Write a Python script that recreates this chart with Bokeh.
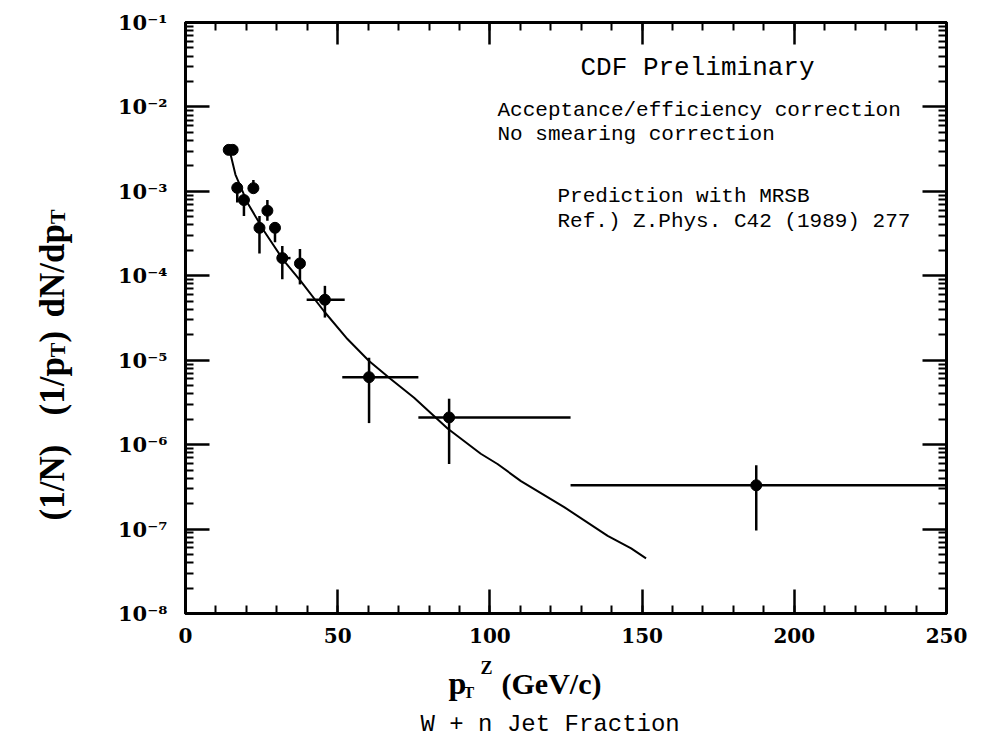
import math
from bokeh.plotting import figure
from bokeh.layouts import row, column
from bokeh.models import (Range1d, LinearAxis, LogAxis, FixedTicker, SingleIntervalTicker,
                          CustomJSTickFormatter, Label, ColumnDataSource)
from bokeh.embed import file_html
from bokeh.resources import INLINE

# ---------------- data ----------------
pt_x = [14.2, 15.5, 17.0, 19.2, 22.3, 24.3, 26.9, 29.4, 31.8, 37.6, 45.8, 60.3, 86.6, 187.5]
pt_y = [3.1e-3, 3.1e-3, 1.1e-3, 7.9e-4, 1.09e-3, 3.7e-4, 5.9e-4, 3.7e-4, 1.62e-4, 1.40e-4,
        5.2e-5, 6.3e-6, 2.1e-6, 3.3e-7]
pt_x_lo = [14.2, 15.5, 17.0, 19.2, 22.3, 24.3, 26.9, 29.4, 30.2, 37.6, 39.8, 51.5, 76.5, 126.5]
pt_x_hi = [14.2, 15.5, 17.0, 19.2, 22.3, 24.3, 26.9, 29.4, 34.5, 37.6, 52.3, 76.5, 126.5, 250.0]
pt_y_lo = [3.1e-3, 3.1e-3, 7.4e-4, 5.1e-4, 9.8e-4, 1.84e-4, 4.5e-4, 2.5e-4, 9.1e-5, 7.9e-5,
           3.2e-5, 1.8e-6, 5.9e-7, 9.6e-8]
pt_y_hi = [3.1e-3, 3.1e-3, 1.25e-3, 9.0e-4, 1.36e-3, 5.1e-4, 7.9e-4, 4.3e-4, 2.26e-4, 2.07e-4,
           7.6e-5, 1.07e-5, 3.5e-6, 5.7e-7]

curve_x = [14.8, 16.4, 20.3, 25.8, 32.3, 37.8, 45.5, 53.2, 60.3, 67.4, 75.1, 86.1, 97.0,
           102.5, 110.2, 124.4, 138.7, 146.4, 151.3]
curve_y = [2.75e-3, 1.58e-3, 7.4e-4, 3.39e-4, 1.51e-4, 8.7e-5, 3.8e-5, 1.78e-5, 9.8e-6, 6.0e-6,
           3.6e-6, 1.55e-6, 7.8e-7, 5.9e-7, 3.7e-7, 1.82e-7, 8.3e-8, 5.9e-8, 4.5e-8]

y_exps = [-8, -7, -6, -5, -4, -3, -2, -1]
y_tick_labels = ["10\u207b\u2078", "10\u207b\u2077", "10\u207b\u2076", "10\u207b\u2075",
                 "10\u207b\u2074", "10\u207b\u00b3", "10\u207b\u00b2", "10\u207b\u00b9"]
x_tick_labels = ["0", "50", "100", "150", "200", "250"]

annot_lines = ["Acceptance/efficiency correction", "No smearing correction"]
pred_lines = ["Prediction with MRSB", "Ref.) Z.Phys. C42 (1989) 277"]

# ---------------- geometry of the page ----------------
W, H = 989, 743
SIDE_W = 80            # left strip holding the y title
MAIN_H = 653           # height of the main figure (and the left strip)
BOT_H = H - MAIN_H     # strip below holding the x title and the caption
LEFT, RIGHT, TOP, BOTTOM = 185, 43, 22, 130   # frame position on the whole page
FW, FH = W - LEFT - RIGHT, H - TOP - BOTTOM
INK = "black"

p = figure(width=W - SIDE_W, height=MAIN_H, x_range=Range1d(0, 250),
           y_range=Range1d(1e-8, 1e-1), y_axis_type="log", output_backend="svg",
           toolbar_location=None, min_border_left=LEFT - SIDE_W, min_border_right=RIGHT,
           min_border_top=TOP, min_border_bottom=MAIN_H - TOP - FH)
p.frame_align = False
p.grid.visible = False
p.outline_line_color = INK
p.outline_line_width = 3
p.background_fill_color = "white"
p.border_fill_color = "white"

x_ticker = SingleIntervalTicker(interval=50, num_minor_ticks=5)
y_major = [10.0 ** e for e in y_exps]
y_minor = [k * 10.0 ** e for e in y_exps[:-1] for k in range(2, 10)]
y_ticker = FixedTicker(ticks=y_major, minor_ticks=y_minor)

y_fmt = CustomJSTickFormatter(args=dict(labels=y_tick_labels, exps=y_exps), code="""
const e = Math.round(Math.log10(tick));
const i = exps.indexOf(e);
return i >= 0 ? labels[i] : "";
""")
x_fmt = CustomJSTickFormatter(args=dict(labels=x_tick_labels), code="""
const i = Math.round(tick / 50);
return (i >= 0 && i < labels.length) ? labels[i] : "";
""")
blank = CustomJSTickFormatter(code="return '';")


def style(ax):
    ax.axis_line_width = 3
    ax.axis_line_color = INK
    ax.major_tick_in = 24
    ax.major_tick_out = 0
    ax.minor_tick_in = 8
    ax.minor_tick_out = 0
    ax.major_tick_line_width = 2.5
    ax.minor_tick_line_width = 2
    ax.major_tick_line_color = INK
    ax.minor_tick_line_color = INK
    ax.axis_label = None
    ax.major_label_text_color = INK


xa = p.xaxis[0]
xa.ticker = x_ticker
xa.formatter = x_fmt
style(xa)
xa.major_label_text_font = "DejaVu Serif"
xa.major_label_text_font_style = "bold"
xa.major_label_text_font_size = "20px"
xa.major_label_standoff = 14

ya = p.yaxis[0]
ya.ticker = y_ticker
ya.formatter = y_fmt
style(ya)
ya.major_label_text_font = "DejaVu Serif"
ya.major_label_text_font_style = "bold"
ya.major_label_text_font_size = "21px"
ya.major_label_standoff = 18

top_ax = LinearAxis(ticker=x_ticker, formatter=blank)
style(top_ax)
top_ax.major_tick_in = 22
p.add_layout(top_ax, "above")

right_ax = LogAxis(ticker=y_ticker, formatter=blank)
style(right_ax)
p.add_layout(right_ax, "right")

# ---------------- marks ----------------
src = ColumnDataSource(dict(x=pt_x, y=pt_y, xlo=pt_x_lo, xhi=pt_x_hi, ylo=pt_y_lo, yhi=pt_y_hi))
p.line(curve_x, curve_y, line_color=INK, line_width=2)
p.segment(x0="xlo", x1="xhi", y0="y", y1="y", source=src, line_color=INK, line_width=2.5)
p.segment(x0="x", x1="x", y0="ylo", y1="yhi", source=src, line_color=INK, line_width=2.5)
p.scatter("x", "y", source=src, size=11, color=INK)


# ---------------- text inside the frame ----------------
def xd(X):
    return (X - LEFT) * 250.0 / FW


def yd(Y):
    return 10.0 ** (-8 + 7.0 * (TOP + FH - Y) / FH)


MONO = "Liberation Mono"
SERIF = "Liberation Serif"

p.add_layout(Label(x=xd(580), y=yd(67), text="CDF Preliminary", text_font=MONO,
                   text_font_size="26px", text_baseline="middle", text_align="left",
                   text_color=INK))
for t, Y in zip(annot_lines, [110, 134]):
    p.add_layout(Label(x=xd(497), y=yd(Y), text=t, text_font=MONO, text_font_size="21px",
                       text_baseline="middle", text_align="left", text_color=INK))
for t, Y in zip(pred_lines, [196, 221]):
    p.add_layout(Label(x=xd(557), y=yd(Y), text=t, text_font=MONO, text_font_size="21px",
                       text_baseline="middle", text_align="left", text_color=INK))


# ---------------- side strips for the titles ----------------
def strip(w, h):
    f = figure(width=w, height=h, x_range=Range1d(0, w), y_range=Range1d(0, h),
               output_backend="svg", toolbar_location=None, min_border=0,
               x_axis_location=None, y_axis_location=None)
    f.frame_align = False
    f.grid.visible = False
    f.outline_line_color = None
    f.background_fill_color = "white"
    f.border_fill_color = "white"
    return f


left = strip(SIDE_W, MAIN_H)
# y title: (1/N) (1/p_T) dN/dp_T, read bottom to top
for t, X, Y, fs in [("(1/N)", 52, 520, "35px"), ("(1/p", 52, 415, "35px"),
                    ("T", 57, 356.7, "22px"), (")", 52, 342, "35px"),
                    ("dN/dp", 52, 317, "35px"), ("T", 57, 223.6, "22px")]:
    left.add_layout(Label(x=X, y=MAIN_H - Y, text=t, text_font=SERIF, text_font_style="bold",
                          text_font_size=fs, text_baseline="alphabetic", text_align="left",
                          angle=math.pi / 2, text_color=INK))

bottom = strip(W - SIDE_W, BOT_H)
# x title: p_T^Z (GeV/c)
for t, X, Y, fs in [("p", 448, 682, "32px"), ("T", 463, 692, "16px"),
                    ("Z", 480, 667, "18px"), ("(GeV/c)", 501, 683, "30px")]:
    bottom.add_layout(Label(x=X - SIDE_W, y=H - Y, text=t, text_font=SERIF,
                            text_font_style="bold", text_font_size=fs,
                            text_baseline="alphabetic", text_align="left", text_color=INK))
bottom.add_layout(Label(x=420 - SIDE_W, y=H - 724, text="W + n Jet Fraction", text_font=MONO,
                        text_font_size="24px", text_baseline="middle", text_align="left",
                        text_color=INK))

layout = row(left, column(p, bottom))
open("out.html", "w").write(file_html(layout, INLINE))
